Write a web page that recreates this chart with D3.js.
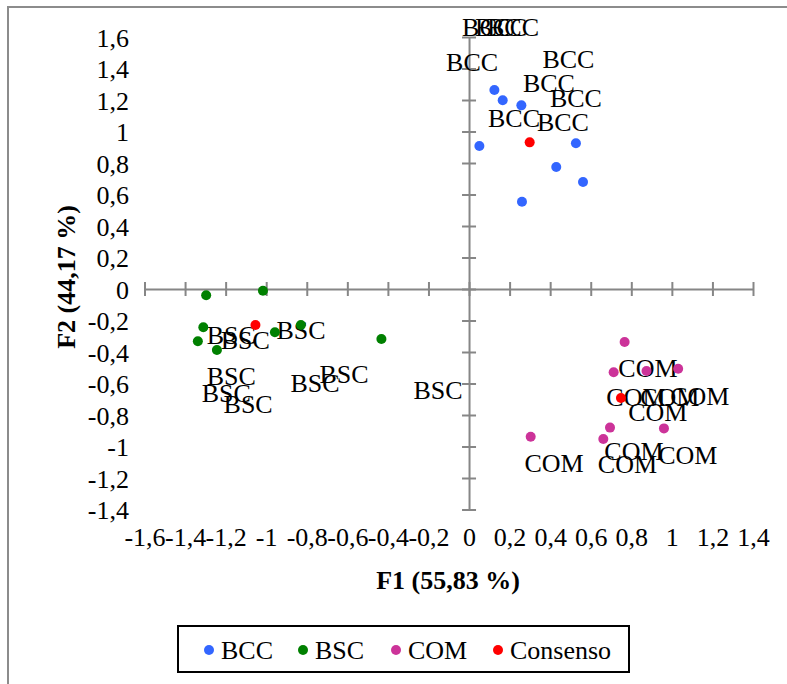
<!DOCTYPE html>
<html>
<head>
<meta charset="utf-8">
<script src="https://cdn.jsdelivr.net/npm/d3@7"></script>
<style>
  body { margin: 0; background: #fff; }
</style>
</head>
<body>
<div id="chart"></div>
<script>
'use strict';

// F1 / F2 scores
const bccPoints = [[0.125, 1.263], [0.166, 1.198], [0.258, 1.166], [0.051, 0.908],
                   [0.527, 0.925], [0.430, 0.775], [0.562, 0.679], [0.261, 0.554]];
const bscPoints = [[-1.296, -0.040], [-1.016, -0.011], [-1.310, -0.243], [-1.337, -0.332],
                   [-1.243, -0.387], [-0.957, -0.275], [-0.829, -0.229], [-0.432, -0.317]];
const comPoints = [[0.767, -0.337], [0.713, -0.529], [0.875, -0.521], [1.031, -0.506],
                   [0.695, -0.880], [0.662, -0.952], [0.961, -0.885], [0.304, -0.938]];
const consensoPoints = [[0.299, 0.931], [-1.053, -0.229], [0.749, -0.692]];

// where the data labels ended up (they were dragged away from the markers)
const bccLabels = [[0.094, 1.663], [0.158, 1.663], [0.217, 1.663], [0.015, 1.441],
                   [0.490, 1.460], [0.394, 1.308], [0.527, 1.213], [0.222, 1.086], [0.463, 1.060]];
const bscLabels = [[-1.172, -0.292], [-1.103, -0.324], [-0.828, -0.260], [-1.172, -0.552],
                   [-1.197, -0.660], [-1.089, -0.730], [-0.759, -0.597], [-0.616, -0.540], [-0.153, -0.641]];
const comLabels = [[0.882, -0.502], [0.823, -0.686], [0.990, -0.686], [1.138, -0.679],
                   [0.931, -0.778], [0.813, -1.029], [0.781, -1.111], [1.079, -1.054], [0.419, -1.105]];

const xTicks = [-1.6, -1.4, -1.2, -1, -0.8, -0.6, -0.4, -0.2, 0, 0.2, 0.4, 0.6, 0.8, 1, 1.2, 1.4];
const yTicks = [-1.4, -1.2, -1, -0.8, -0.6, -0.4, -0.2, 0, 0.2, 0.4, 0.6, 0.8, 1, 1.2, 1.4, 1.6];

const series = [
  { name: 'BCC', color: '#3366ff', points: bccPoints, labels: bccLabels },
  { name: 'BSC', color: '#008000', points: bscPoints, labels: bscLabels },
  { name: 'COM', color: '#cc3399', points: comPoints, labels: comLabels },
  { name: 'Consenso', color: '#ff0000', points: consensoPoints, labels: [] }
];

const W = 787, H = 684;
const AXIS_COLOR = '#868686';
const FONT = 26;
const SERIF = '"Liberation Serif", "Times New Roman", serif';

const svg = d3.select('#chart').append('svg')
    .attr('width', W)
    .attr('height', H)
    .style('font-family', SERIF);

// chart frame (only left and top edges are visible in the crop)
svg.append('rect')
    .attr('x', 8).attr('y', 7)
    .attr('width', W + 20).attr('height', H + 20)
    .attr('fill', 'none')
    .attr('stroke', '#8c8c8c')
    .attr('stroke-width', 2);

const x = d3.scaleLinear().domain([-1.6, 1.4]).range([144.5, 753]);
const y = d3.scaleLinear().domain([-1.4, 1.6]).range([509.5, 37]);

const fmt = d => String(+d.toFixed(1)).replace('.', ',');

// axis lines crossing at the origin
const xAxis = svg.append('g')
    .attr('transform', 'translate(0,' + y(0) + ')')
    .call(d3.axisBottom(x).tickValues(xTicks).tickSizeOuter(0).tickSizeInner(14).tickFormat(''));
xAxis.select('.domain').attr('stroke', AXIS_COLOR).attr('stroke-width', 2);
xAxis.selectAll('.tick line').attr('y1', -7).attr('y2', 7)
    .attr('stroke', AXIS_COLOR).attr('stroke-width', 2);

const yAxis = svg.append('g')
    .attr('transform', 'translate(' + x(0) + ',0)')
    .call(d3.axisLeft(y).tickValues(yTicks).tickSizeOuter(0).tickSizeInner(14).tickFormat(''));
yAxis.select('.domain').attr('stroke', AXIS_COLOR).attr('stroke-width', 2);
yAxis.selectAll('.tick line').attr('x1', -7).attr('x2', 7)
    .attr('stroke', AXIS_COLOR).attr('stroke-width', 2);

// tick labels sit at the low end of the chart, not on the axes
const xLab = svg.append('g')
    .attr('transform', 'translate(0,530)')
    .call(d3.axisBottom(x).tickValues(xTicks).tickSize(0).tickPadding(0).tickFormat(fmt));
xLab.attr('font-family', null).attr('font-size', null);
xLab.select('.domain').remove();
xLab.selectAll('text')
    .style('font-family', SERIF)
    .style('font-size', FONT + 'px')
    .attr('fill', '#000')
    .attr('dy', '0.6em');

const yLab = svg.append('g')
    .attr('transform', 'translate(129,0)')
    .call(d3.axisLeft(y).tickValues(yTicks).tickSize(0).tickPadding(0).tickFormat(fmt));
yLab.attr('font-family', null).attr('font-size', null);
yLab.select('.domain').remove();
yLab.selectAll('text')
    .style('font-family', SERIF)
    .style('font-size', FONT + 'px')
    .attr('fill', '#000')
    .attr('dy', '0.35em');

// axis titles
svg.append('text')
    .attr('x', 448).attr('y', 580)
    .attr('dy', '0.35em')
    .attr('text-anchor', 'middle')
    .style('font-size', FONT + 'px')
    .style('font-weight', 'bold')
    .text('F1 (55,83 %)');

svg.append('text')
    .attr('transform', 'translate(66,277) rotate(-90)')
    .attr('dy', '0.35em')
    .attr('text-anchor', 'middle')
    .style('font-size', FONT + 'px')
    .style('font-weight', 'bold')
    .text('F2 (44,17 %)');

// data labels first, markers drawn over them
const labelLayer = svg.append('g');
series.forEach(s => {
  labelLayer.selectAll(null)
      .data(s.labels)
      .enter().append('text')
      .attr('x', d => x(d[0]))
      .attr('y', d => y(d[1]))
      .attr('dy', '0.35em')
      .attr('text-anchor', 'middle')
      .style('font-size', FONT + 'px')
      .attr('fill', '#000')
      .text(s.name);
});

const pointLayer = svg.append('g');
series.forEach(s => {
  pointLayer.selectAll(null)
      .data(s.points)
      .enter().append('circle')
      .attr('cx', d => x(d[0]))
      .attr('cy', d => y(d[1]))
      .attr('r', 5)
      .attr('fill', s.color);
});

// legend
const legend = svg.append('g');
legend.append('rect')
    .attr('x', 178).attr('y', 626)
    .attr('width', 451).attr('height', 46)
    .attr('fill', '#fff')
    .attr('stroke', '#000')
    .attr('stroke-width', 2);

const legendX = [209, 303, 396, 498];
series.forEach((s, i) => {
  legend.append('circle')
      .attr('cx', legendX[i]).attr('cy', 650)
      .attr('r', 5)
      .attr('fill', s.color);
  legend.append('text')
      .attr('x', legendX[i] + 12).attr('y', 650)
      .attr('dy', '0.35em')
      .style('font-size', FONT + 'px')
      .attr('fill', '#000')
      .text(s.name);
});
</script>
</body>
</html>
